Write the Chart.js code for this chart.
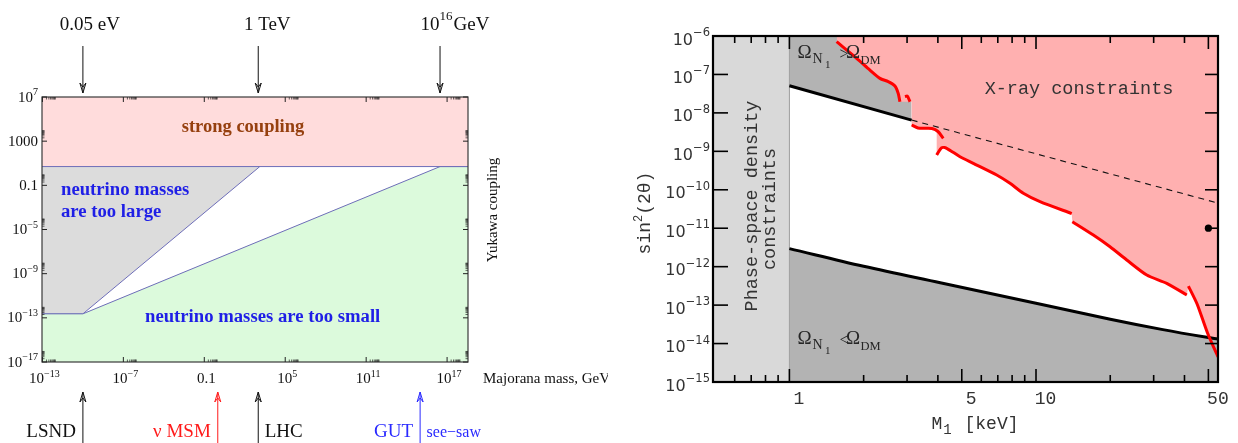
<!DOCTYPE html>
<html>
<head>
<meta charset="utf-8">
<title>Yukawa coupling vs Majorana mass; sterile neutrino constraints</title>
<script src="https://cdn.jsdelivr.net/npm/chart.js@4.4.1/dist/chart.umd.min.js"></script>
<style>
  html, body { margin: 0; padding: 0; background: #ffffff; }
  #wrap { position: relative; width: 1238px; height: 443px; overflow: hidden; background: #ffffff; }
  #leftChart { position: absolute; left: 0; top: 0; }
  #rightChart { position: absolute; left: 608px; top: 0; }
</style>
</head>
<body>
<div id="wrap">
  <canvas id="leftChart" width="608" height="443"></canvas>
  <canvas id="rightChart" width="630" height="443"></canvas>
</div>
<script>
// ================= LEFT PANEL DATA =================
const leftMassRange = [9.3e-14, 3.55e18];          // Majorana mass, GeV
const leftYukawaRange = [1e-17, 1e7];              // Yukawa coupling
const leftMassTicks = [1e-13, 1e-7, 0.1, 1e5, 1e11, 1e17];
const leftMassTickLabels = ['10^-13', '10^-7', '0.1', '10^5', '10^11', '10^17'];
const leftYukawaTicks = [1e7, 1000, 0.1, 1e-5, 1e-9, 1e-13, 1e-17];
const leftYukawaTickLabels = ['10^7', '1000', '0.1', '10^-5', '10^-9', '10^-13', '10^-17'];
const strongCouplingM = [9.3e-14, 3.55e18];
const strongCouplingY = [5, 5];
const tooLargeM = [9.3e-14, 1e-10, 1.3e3];
const tooLargeY = [2.3e-13, 2.3e-13, 5];
const tooSmallM = [9.3e-14, 1e-10, 3e16, 3.55e18];
const tooSmallY = [2.3e-13, 2.3e-13, 5, 5];
const scaleArrowM = [1e-10, 1e3, 3e16];
const scaleArrowLabels = ['0.05 eV', '1 TeV', '10^16GeV'];
const modelArrowM = [1e-10, 1, 1e3, 1e15];
const modelArrowLabels = ['LSND', '\u03BD MSM', 'LHC', 'GUT'];

// ================= RIGHT PANEL DATA =================
const massRange = [0.49, 54.7];                    // M1 [keV]
const mixRange = [1e-15, 1e-6];                    // sin^2(2 theta)
const massMajorTicks = [1, 5, 10, 50];
const massMajorLabels = ['1', '5', '10', '50'];
const massMinorTicks = [0.6, 0.7, 0.8, 0.9, 2, 3, 4, 6, 7, 8, 9, 20, 30, 40];
const mixTicks = [1e-6, 1e-7, 1e-8, 1e-9, 1e-10, 1e-11, 1e-12, 1e-13, 1e-14, 1e-15];
const mixTickLabels = ['10^-6', '10^-7', '10^-8', '10^-9', '10^-10', '10^-11', '10^-12', '10^-13', '10^-14', '10^-15'];
const phaseSpaceM = [0.49, 1];
const phaseSpaceS = [1e-6, 1e-6];
const phaseEdgeM = [1, 1];
const phaseEdgeS = [1e-15, 1e-6];
const overM = [1, 3.131];
const overS = [5.1e-8, 6.5e-9];
const overDashM = [3.131, 54.7];
const overDashS = [6.5e-9, 4.5e-11];
const underM = [1, 2, 4.09, 10, 20, 32.7, 49.3, 54.7];
const underS = [2.95e-12, 1.02e-12, 3.8e-13, 1.12e-13, 4.3e-14, 2.3e-14, 1.45e-14, 1.32e-14];
const xrayA_M = [1.554, 1.873, 2.121, 2.329, 2.516, 2.679, 2.763, 2.807];
const xrayA_S = [7.1e-7, 2.63e-7, 1.3e-7, 7.9e-8, 6.5e-8, 5.0e-8, 3.2e-8, 1.95e-8];
const xrayA2_M = [2.942, 3.006, 3.083];
const xrayA2_S = [2.64e-8, 2.75e-8, 1.95e-8];
const xrayB_M = [3.131, 3.322, 3.545, 3.785, 4.004, 4.207];
const xrayB_S = [4.84e-9, 4.04e-9, 3.97e-9, 3.92e-9, 3.28e-9, 2.18e-9];
const xrayC_M = [3.956, 4.144, 4.343, 4.918, 5.568, 6.929, 7.845, 8.881, 10.38, 13.96];
const xrayC_S = [8.02e-10, 1.24e-9, 1.2e-9, 7.24e-10, 4.88e-10, 2.42e-10, 1.47e-10, 8.09e-11, 4.9e-11, 2.41e-11];
const xrayD_M = [14.04, 17.08, 19.96, 23.33, 28.13, 33.9, 40.88];
const xrayD_S = [1.48e-11, 6.65e-12, 3.3e-12, 1.49e-12, 6.05e-13, 3.69e-13, 1.83e-13];
const xrayE_M = [41.49, 45.0, 49.6, 54.7];
const xrayE_S = [3.13e-13, 1.07e-13, 1.88e-14, 4.5e-15];
const xrayRegionM = [1.554, 1.554, 1.873, 2.121, 2.329, 2.516, 2.679, 2.763, 2.807, 3.131, 3.131, 3.322, 3.545, 3.785, 3.956, 3.956, 4.144, 4.343, 4.918, 5.568, 6.929, 7.845, 8.881, 10.38, 13.96, 14.04, 17.08, 19.96, 23.33, 28.13, 33.9, 40.88, 41.49, 45.0, 49.6, 54.7];
const xrayRegionS = [1e-6, 7.1e-7, 2.63e-7, 1.3e-7, 7.9e-8, 6.5e-8, 5.0e-8, 3.2e-8, 1.95e-8, 1.95e-8, 4.84e-9, 4.04e-9, 3.97e-9, 3.92e-9, 3.4e-9, 8.02e-10, 1.24e-9, 1.2e-9, 7.24e-10, 4.88e-10, 2.42e-10, 1.47e-10, 8.09e-11, 4.9e-11, 2.41e-11, 1.48e-11, 6.65e-12, 3.3e-12, 1.49e-12, 6.05e-13, 3.69e-13, 1.83e-13, 3.13e-13, 1.07e-13, 1.88e-14, 4.5e-15];
const markerM = [50];
const markerS = [1e-11];

// ================= HELPERS =================
const SERIF = '"Liberation Serif", "Times New Roman", serif';
const MONO = '"Liberation Mono", "DejaVu Sans Mono", monospace';
const SANS = '"DejaVu Sans", "Liberation Sans", sans-serif';

function pts(xs, ys) { return xs.map((x, i) => ({ x: x, y: ys[i] })); }

function splitPow(label) {
  const i = label.indexOf('^');
  if (i < 0) return [label, ''];
  return [label.slice(0, i), label.slice(i + 1).replace('-', '\u2212')];
}

function drawParts(ctx, parts, x, y, align) {
  let total = 0;
  parts.forEach(p => { ctx.font = p.font; p.w = ctx.measureText(p.text).width; total += p.w + (p.gap || 0); });
  let cx = align === 'center' ? x - total / 2 : (align === 'right' ? x - total : x);
  ctx.textAlign = 'left';
  ctx.textBaseline = 'alphabetic';
  parts.forEach(p => {
    cx += (p.gap || 0);
    ctx.font = p.font;
    if (p.color) ctx.fillStyle = p.color;
    ctx.fillText(p.text, cx, y + (p.dy || 0));
    cx += p.w;
  });
  return total;
}

function powParts(label, baseFont, expFont, rise, color) {
  const s = splitPow(label);
  const parts = [{ text: s[0], font: baseFont, color: color }];
  if (s[1]) parts.push({ text: s[1], font: expFont, dy: -rise, color: color });
  return parts;
}

function seg(ctx, x1, y1, x2, y2) { ctx.beginPath(); ctx.moveTo(x1, y1); ctx.lineTo(x2, y2); ctx.stroke(); }

function arrow(ctx, x, yFrom, yTo, color) {
  ctx.strokeStyle = color; ctx.lineWidth = 1;
  seg(ctx, x, yFrom, x, yTo);
  const d = yTo > yFrom ? 1 : -1;
  ctx.beginPath();
  ctx.moveTo(x - 3, yTo - d * 10);
  ctx.lineTo(x, yTo);
  ctx.lineTo(x + 3, yTo - d * 10);
  ctx.lineTo(x, yTo - d * 6);
  ctx.closePath();
  ctx.stroke();
}

function areaSet(xs, ys, fill, color, order, border, bw) {
  return { data: pts(xs, ys), fill: fill, backgroundColor: color,
    borderColor: border || 'rgba(0,0,0,0)', borderWidth: bw || 1,
    pointRadius: 0, tension: 0, order: order };
}
function lineSet(xs, ys, color, width, order, extra) {
  return Object.assign({ data: pts(xs, ys), fill: false, borderColor: color, borderWidth: width,
    pointRadius: 0, tension: 0.25, order: order, borderCapStyle: 'butt', borderJoinStyle: 'round' }, extra || {});
}

function logScale(range) {
  return { type: 'logarithmic', min: range[0], max: range[1], display: false };
}

// ================= LEFT PANEL =================
const leftDecor = {
  id: 'leftDecor',
  afterDraw(chart) {
    const ctx = chart.ctx, ca = chart.chartArea, xs = chart.scales.x, ys = chart.scales.y;
    ctx.save();
    // inner texts
    ctx.textBaseline = 'alphabetic';
    ctx.font = 'bold 18.5px ' + SERIF;
    ctx.fillStyle = '#96400f'; ctx.textAlign = 'center';
    ctx.fillText('strong coupling', 243, 132);
    ctx.font = 'bold 18.7px ' + SERIF;
    ctx.fillStyle = '#1f1fe6'; ctx.textAlign = 'left';
    ctx.fillText('neutrino masses', 61, 195);
    ctx.fillText('are too large', 61, 216.5);
    ctx.fillText('neutrino masses are too small', 145, 322);

    // frame
    ctx.strokeStyle = '#3a3a3a'; ctx.lineWidth = 1.2;
    ctx.strokeRect(ca.left, ca.top, ca.right - ca.left, ca.bottom - ca.top);
    // ticks
    ctx.strokeStyle = '#222'; ctx.lineWidth = 1;
    leftMassTicks.forEach(v => {
      const p = xs.getPixelForValue(v);
      seg(ctx, p, ca.bottom, p, ca.bottom - 5);
      seg(ctx, p, ca.top, p, ca.top + 5);
      ctx.lineWidth = 0.7;
      for (let k = 2; k < 10; k++) {
        const q = xs.getPixelForValue(v * k);
        if (q < ca.right) { seg(ctx, q, ca.bottom, q, ca.bottom - 2.5); seg(ctx, q, ca.top, q, ca.top + 2.5); }
      }
      ctx.lineWidth = 1;
    });
    leftYukawaTicks.forEach(v => {
      const p = ys.getPixelForValue(v);
      seg(ctx, ca.left, p, ca.left + 5, p);
      seg(ctx, ca.right, p, ca.right - 5, p);
      ctx.lineWidth = 0.7;
      for (let k = 2; k < 10; k++) {
        const q = ys.getPixelForValue(v * k);
        if (q > ca.top) { seg(ctx, ca.left, q, ca.left + 2.5, q); seg(ctx, ca.right, q, ca.right - 2.5, q); }
      }
      ctx.lineWidth = 1;
    });
    // tick labels
    leftMassTicks.forEach((v, i) => {
      drawParts(ctx, powParts(leftMassTickLabels[i], '15px ' + SERIF, '10px ' + SERIF, 6.5, '#111'),
        xs.getPixelForValue(v) + 2, 383, 'center');
    });
    leftYukawaTicks.forEach((v, i) => {
      drawParts(ctx, powParts(leftYukawaTickLabels[i], '15px ' + SERIF, '10px ' + SERIF, 6.5, '#111'),
        ca.left - 4, ys.getPixelForValue(v) + 4.5, 'right');
    });
    // axis titles
    ctx.fillStyle = '#111'; ctx.font = '15px ' + SERIF; ctx.textAlign = 'left';
    ctx.fillText('Majorana mass, GeV', 483, 383);
    ctx.save();
    ctx.translate(497, 210); ctx.rotate(-Math.PI / 2);
    ctx.textAlign = 'center'; ctx.fillText('Yukawa coupling', 0, 0);
    ctx.restore();

    // top scale arrows
    const topOff = [7, 9, 15];
    scaleArrowM.forEach((m, i) => {
      const p = xs.getPixelForValue(m);
      arrow(ctx, p, 46, 93, '#111');
      drawParts(ctx, powParts(scaleArrowLabels[i].replace('GeV', ''), '19px ' + SERIF, '13px ' + SERIF, 10, '#111')
        .concat(scaleArrowLabels[i].indexOf('GeV') > 0 ? [{ text: 'GeV', font: '19px ' + SERIF, color: '#111', gap: 1 }] : []),
        p + topOff[i], 30, 'center');
    });
    // bottom model arrows
    const modelColors = ['#111', '#ff1a1a', '#111', '#2a2aff'];
    modelArrowM.forEach((m, i) => {
      const p = xs.getPixelForValue(m);
      arrow(ctx, p, 443, 392, modelColors[i]);
      ctx.fillStyle = modelColors[i];
      ctx.font = '19px ' + SERIF;
      if (i === 2) { ctx.textAlign = 'left'; ctx.fillText(modelArrowLabels[i], p + 6.5, 437); }
      else { ctx.textAlign = 'right'; ctx.fillText(modelArrowLabels[i], p - 7, 437); }
      if (i === 3) { ctx.font = '16px ' + SERIF; ctx.textAlign = 'left'; ctx.fillText('see\u2212saw', p + 6.5, 437); }
    });
    ctx.restore();
  }
};

new Chart(document.getElementById('leftChart'), {
  type: 'line',
  data: {
    datasets: [
      areaSet(tooLargeM, tooLargeY, 'end', '#dcdcdc', 10, '#6d6db8', 1),
      areaSet(tooSmallM, tooSmallY, 'start', '#dcfadc', 9, '#6d6db8', 1),
      areaSet(strongCouplingM, strongCouplingY, 'end', '#ffdcdc', 8, '#6d6db8', 1)
    ]
  },
  options: {
    responsive: false, animation: false, devicePixelRatio: 1, events: [],
    layout: { autoPadding: false, padding: { left: 42, right: 140, top: 97, bottom: 81 } },
    plugins: { legend: { display: false }, tooltip: { enabled: false } },
    scales: { x: logScale(leftMassRange), y: logScale(leftYukawaRange) }
  },
  plugins: [leftDecor]
});

// ================= RIGHT PANEL =================
const OX = 608;
const rightDecor = {
  id: 'rightDecor',
  afterDraw(chart) {
    const ctx = chart.ctx, ca = chart.chartArea, xs = chart.scales.x, ys = chart.scales.y;
    ctx.save();
    ctx.textBaseline = 'alphabetic';
    // region labels
    ctx.fillStyle = '#333';
    ctx.font = '18.5px ' + MONO;
    ctx.save(); ctx.translate(757 - OX, 206); ctx.rotate(-Math.PI / 2);
    ctx.textAlign = 'center'; ctx.fillText('Phase-space density', 0, 0); ctx.restore();
    ctx.save(); ctx.translate(775 - OX, 209); ctx.rotate(-Math.PI / 2);
    ctx.textAlign = 'center'; ctx.fillText('constraints', 0, 0); ctx.restore();
    ctx.textAlign = 'center';
    ctx.fillText('X-ray constraints', 1079 - OX, 94);

    // Omega labels
    const omg = (B, rel) => {
      ctx.fillStyle = '#262626'; ctx.textAlign = 'left';
      ctx.font = '19px ' + SERIF; ctx.fillText('\u03A9', 797.5 - OX, B);
      ctx.font = '14px ' + SERIF; ctx.fillText('N', 812.5 - OX, B + 5);
      ctx.font = '11px ' + SERIF; ctx.fillText('1', 825 - OX, B + 10);
      ctx.font = '16px ' + SERIF; ctx.fillText(rel, 839.5 - OX, B + 1);
      ctx.font = '19px ' + SERIF; ctx.fillText('\u03A9', 846 - OX, B);
      ctx.font = '12.5px ' + SERIF; ctx.fillText('DM', 860.5 - OX, B + 6);
    };
    omg(57.5, '>');
    omg(344, '<');

    // ticks
    ctx.strokeStyle = '#000'; ctx.lineWidth = 1.6;
    massMajorTicks.forEach(v => {
      const p = xs.getPixelForValue(v);
      seg(ctx, p, ca.bottom, p, ca.bottom - 13); seg(ctx, p, ca.top, p, ca.top + 13);
    });
    massMinorTicks.forEach(v => {
      const p = xs.getPixelForValue(v);
      seg(ctx, p, ca.bottom, p, ca.bottom - 7); seg(ctx, p, ca.top, p, ca.top + 7);
    });
    mixTicks.forEach(v => {
      const p = ys.getPixelForValue(v);
      seg(ctx, ca.left, p, ca.left + 15, p); seg(ctx, ca.right, p, ca.right - 13, p);
    });
    // frame
    ctx.lineWidth = 2.2;
    ctx.strokeRect(ca.left, ca.top, ca.right - ca.left, ca.bottom - ca.top);

    // tick labels
    mixTicks.forEach((v, i) => {
      drawParts(ctx, powParts(mixTickLabels[i], '16px ' + SANS, '11.5px ' + SANS, 8.5, '#333'),
        ca.left - 3, ys.getPixelForValue(v) + 8.5, 'right');
    });
    ctx.fillStyle = '#333'; ctx.font = '18px ' + MONO; ctx.textAlign = 'center';
    massMajorTicks.forEach((v, i) => {
      ctx.fillText(massMajorLabels[i], xs.getPixelForValue(v) + 9.5, 404);
    });
    // axis titles
    drawParts(ctx, [
      { text: 'M', font: '18px ' + MONO, color: '#333' },
      { text: '1', font: '14px ' + MONO, dy: 5, gap: 1 },
      { text: ' [keV]', font: '18px ' + MONO, gap: 2 }
    ], 931.5 - OX, 429, 'left');
    ctx.save(); ctx.translate(650 - OX, 213); ctx.rotate(-Math.PI / 2);
    drawParts(ctx, [
      { text: 'sin', font: '18px ' + MONO, color: '#333' },
      { text: '2', font: '12px ' + MONO, dy: -8 },
      { text: '(2\u03B8)', font: '18px ' + MONO }
    ], 0, 0, 'center');
    ctx.restore();
    ctx.restore();
  }
};

new Chart(document.getElementById('rightChart'), {
  type: 'line',
  data: {
    datasets: [
      areaSet(phaseSpaceM, phaseSpaceS, 'start', '#d9d9d9', 20),
      areaSet(overM, overS, 'end', '#b3b3b3', 19),
      areaSet(xrayRegionM, xrayRegionS, 'end', '#ffb0b0', 18),
      areaSet(underM, underS, 'start', '#b3b3b3', 17),
      lineSet(phaseEdgeM, phaseEdgeS, '#9c9c9c', 1, 16, { tension: 0 }),
      lineSet(overDashM, overDashS, '#111', 1.1, 6, { tension: 0, borderDash: [6, 5] }),
      lineSet(overM, overS, '#000', 3, 5, { tension: 0 }),
      lineSet(underM, underS, '#000', 3, 5, { tension: 0.35 }),
      lineSet(xrayA_M, xrayA_S, '#ff0000', 3, 3),
      lineSet(xrayA2_M, xrayA2_S, '#ff0000', 3, 3),
      lineSet(xrayB_M, xrayB_S, '#ff0000', 3, 3),
      lineSet(xrayC_M, xrayC_S, '#ff0000', 3, 3),
      lineSet(xrayD_M, xrayD_S, '#ff0000', 3, 3),
      lineSet(xrayE_M, xrayE_S, '#ff0000', 3, 3),
      { data: pts(markerM, markerS), showLine: false, pointRadius: 3.6, pointBackgroundColor: '#000',
        pointBorderColor: '#000', pointBorderWidth: 0, order: 1 }
    ]
  },
  options: {
    responsive: false, animation: false, devicePixelRatio: 1, events: [],
    layout: { autoPadding: false, padding: { left: 713 - OX, right: 630 - (1218 - OX), top: 36, bottom: 443 - 382 } },
    plugins: { legend: { display: false }, tooltip: { enabled: false } },
    scales: { x: logScale(massRange), y: logScale(mixRange) }
  },
  plugins: [rightDecor]
});
</script>
</body>
</html>
